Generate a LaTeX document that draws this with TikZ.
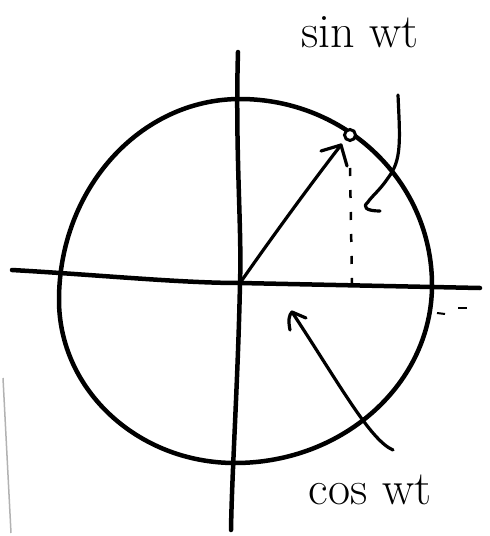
\documentclass[tikz,border=0pt]{standalone}
\usetikzlibrary{arrows.meta}
\begin{document}
\begin{tikzpicture}[x=1pt,y=-1pt,
  thick ink/.style={line width=4.5pt,line cap=round,line join=round},
  thin ink/.style={line width=3.2pt,line cap=round,line join=round},
  lbl/.style={font=\fontsize{48}{48}\selectfont,inner sep=0pt}]
\useasboundingbox (0,0) rectangle (490,536);
% named points
\coordinate (O) at (240,283);
\coordinate (P) at (341,145);
\coordinate (Ptop) at (238,52);
\coordinate (Pbot) at (231,530);
\coordinate (Hl) at (12,270);
\coordinate (Hr) at (480,288);
\coordinate (Ct) at (240,99);
\coordinate (Cr) at (432,285);
\coordinate (Cb) at (235,463);
\coordinate (Cl) at (59,300);
% scan artefact at left edge
\draw[gray!60,line width=1.5pt] (3,378) -- (11,533);
% vertical axis
\draw[thick ink] (Ptop) .. controls (235,150) and (242,230) .. (O)
  .. controls (238,380) and (232,470) .. (Pbot);
% horizontal axis
\draw[thick ink] (Hl) .. controls (100,275) and (180,283) .. (O) -- (Hr);
% circle (hand-drawn, slightly irregular)
\draw[thick ink] (Ct) .. controls (346,99) and (432,182) .. (Cr)
  .. controls (432,383) and (344,463) .. (Cb)
  .. controls (138,463) and (59,390) .. (Cl)
  .. controls (59,189) and (140,99) .. (Ct) -- cycle;
% radius arrow
\draw[thin ink] (O) .. controls (270,240) and (310,185) .. (P);
\draw[thin ink] (321,151) -- (P) -- (347,166);
% small circle on the circle
\node[draw,circle,fill=white,line width=3pt,minimum size=11pt,inner sep=0pt] (dot) at (350,135) {};
% dashed projection
\coordinate (D1) at (350,168);
\coordinate (D2) at (352,283);
\draw[line width=2.5pt,dash pattern=on 8pt off 14pt] (D1) -- (D2);
% little dashes right
\coordinate (s1) at (437,313); \coordinate (s2) at (445,314);
\coordinate (s3) at (458,308); \coordinate (s4) at (467,308);
\draw[line width=2pt] (s1) -- (s2);
\draw[line width=2.5pt] (s3) -- (s4);
% labels
\node[lbl] (sin) at (360,32) {sin wt};
\node[lbl] (cos) at (370,490) {cos wt};
% sin pointer
\coordinate (sa) at (398,95);
\coordinate (sb) at (368,202);
\draw[thin ink] (sa) .. controls (400,140) and (402,160) .. (388,178)
  .. controls (380,190) and (372,196) .. (sb);
\draw[thin ink] (sb) .. controls (362,207) and (366,211) .. (380,211);
% cos pointer
\coordinate (ca) at (393,450);
\coordinate (ct) at (292,312);
\draw[thin ink] (ca) .. controls (370,440) and (340,385) .. (ct);
\draw[thin ink] (290,330) .. controls (288,320) and (289,315) .. (ct) -- (306,318);
\end{tikzpicture}
\end{document}
